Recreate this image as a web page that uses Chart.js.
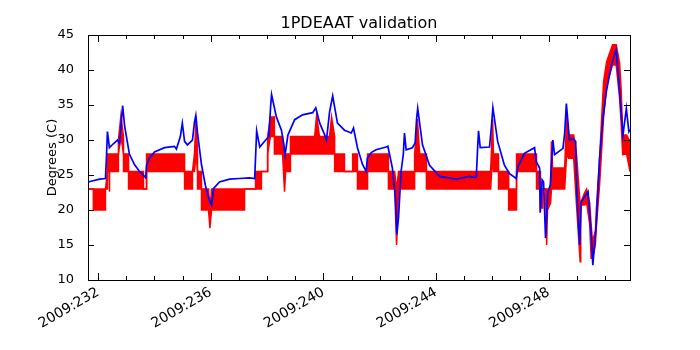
<!DOCTYPE html>
<html>
<head>
<meta charset="utf-8">
<title>1PDEAAT validation</title>
<script src="https://cdn.jsdelivr.net/npm/chart.js@4.4.0/dist/chart.umd.min.js"></script>
<style>
  body { margin: 0; background: #fff; }
  #wrap { width: 700px; height: 350px; }
</style>
</head>
<body>
<div id="wrap"><canvas id="chart" width="700" height="350"></canvas></div>
<script>
// telemetry (red): the signal flickers between two levels, so keep low/high envelope
const redTime = [
    231.64, 231.83, 231.83, 232.26, 232.26, 232.33, 232.33, 232.39, 232.40, 232.41,
    232.72, 232.72, 232.81, 232.90, 232.90, 233.08, 233.08, 233.61, 233.61, 233.72,
    233.72, 235.07, 235.07, 235.35, 235.35, 235.42, 235.48, 235.53, 235.53, 235.67,
    235.67, 235.92, 235.97, 236.03, 237.20, 237.20, 237.59, 237.59, 237.80, 237.80,
    238.02, 238.02, 238.12, 238.26, 238.26, 238.55, 238.62, 238.66, 238.83, 238.83,
    239.69, 239.76, 239.86, 240.22, 240.29, 240.40, 240.40, 240.75, 240.75, 241.04,
    241.04, 241.21, 241.21, 241.57, 241.57, 242.31, 242.31, 242.53, 242.60, 242.67,
    243.24, 243.24, 243.34, 243.42, 243.66, 243.66, 245.94, 246.01, 246.04, 246.22,
    246.22, 246.58, 246.58, 246.86, 246.86, 247.57, 247.57, 247.71, 247.71, 247.79,
    247.79, 247.89, 247.93, 247.96, 248.07, 248.10, 248.14, 248.57, 248.64, 248.71,
    248.89, 248.99, 249.12, 249.14, 249.28, 249.35, 249.46, 249.51, 249.56, 249.66,
    249.70, 249.81, 249.95, 250.06, 250.27, 250.40, 250.52, 250.58, 250.63, 250.77,
    250.89
];
const redLow = [
    23, 23, 20, 20, 23, 23, 25.5, 25.5, 22.6, 25.5,
    25.5, 28, 30.5, 28, 25.5, 25.5, 23, 23, 23, 23,
    25.5, 25.5, 23, 23, 25.5, 25.5, 28, 25.5, 23, 23,
    20, 20, 17.4, 20, 20, 23, 23, 23, 23, 25.5,
    25.5, 28, 30.5, 30.5, 28, 28, 22.6, 25.5, 25.5, 28,
    28, 28, 28, 28, 28, 28, 25.5, 25.5, 25.5, 25.5,
    25.5, 25.5, 23, 23, 25.5, 25.5, 23, 23, 15, 23,
    23, 25.5, 25.5, 25.5, 25.5, 23, 23, 28, 25.5, 25.5,
    23, 23, 20, 20, 25.5, 25.5, 23, 23, 20.3, 20.3,
    23, 23, 15, 20, 21, 23, 23, 23, 28, 27.4,
    27.4, 20.7, 12.6, 20.7, 20.7, 21, 17.9, 13.1, 13.1, 15,
    17.9, 23.6, 33.1, 37.9, 40.7, 40.7, 36, 32.1, 27.9, 28,
    25.5
];
const redHigh = [
    23, 23, 23, 23, 23, 25.5, 28, 28, 28, 28,
    28, 30, 33.5, 30.5, 28, 28, 25.5, 25.5, 23, 23,
    28, 28, 25.5, 25.5, 25.5, 28, 33.3, 28, 25.5, 25.5,
    23, 23, 20, 23, 23, 23, 23, 25.5, 25.5, 25.5,
    25.5, 30.5, 33.3, 33.3, 30.5, 30.5, 28, 28, 28, 30.5,
    30.5, 33.6, 30.5, 30.5, 33.3, 30.5, 28, 28, 25.5, 25.5,
    28, 28, 25.5, 25.5, 28, 28, 25.5, 25.5, 23, 25.5,
    25.5, 28, 33, 28, 28, 25.5, 25.5, 33, 28, 28,
    25.5, 25.5, 23, 23, 28, 28, 25.5, 25.5, 23, 23,
    23, 23, 23, 23, 23, 29.8, 26, 26, 33.6, 30.7,
    30.7, 28, 20.7, 21, 22.5, 23, 21, 17.9, 15.5, 17,
    20.5, 27.4, 38.3, 41.2, 43.6, 43.6, 41, 36.9, 30.7, 30.7,
    29.8
];

// model prediction (blue)
const modelTime = [
    231.64, 232.05, 232.26, 232.30, 232.33, 232.40, 232.55, 232.69, 232.76, 232.83,
    232.87, 232.94, 233.11, 233.29, 233.47, 233.65, 233.69, 233.72, 233.82, 234.00,
    234.36, 234.71, 234.78, 234.82, 234.92, 234.99, 235.07, 235.17, 235.35, 235.42,
    235.47, 235.53, 235.67, 235.81, 235.96, 236.03, 236.10, 236.31, 236.67, 237.02,
    237.38, 237.56, 237.63, 237.74, 237.95, 238.06, 238.13, 238.16, 238.33, 238.51,
    238.59, 238.64, 238.74, 238.98, 239.26, 239.62, 239.73, 239.87, 240.04, 240.11,
    240.22, 240.33, 240.50, 240.75, 240.99, 241.07, 241.21, 241.39, 241.52, 241.56,
    241.70, 241.87, 242.23, 242.29, 242.45, 242.56, 242.61, 242.67, 242.76, 242.84,
    242.88, 242.94, 243.16, 243.26, 243.31, 243.35, 243.52, 243.77, 244.13, 244.72,
    245.19, 245.43, 245.48, 245.51, 245.57, 245.90, 245.97, 246.02, 246.19, 246.43,
    246.61, 246.85, 246.91, 247.14, 247.50, 247.56, 247.68, 247.70, 247.77, 247.82,
    247.89, 247.97, 248.06, 248.15, 248.21, 248.51, 248.57, 248.63, 248.74, 248.86,
    248.96, 249.00, 249.10, 249.16, 249.40, 249.52, 249.57, 249.69, 249.81, 249.93,
    250.05, 250.23, 250.40, 250.52, 250.64, 250.76, 250.85, 250.89
];
const modelTemp = [
    24.0, 24.4, 24.5, 28, 31.2, 28.9, 29.5, 30.0, 29.5, 33,
    34.9, 32, 28.0, 26.5, 25.5, 24.8, 24.6, 26.4, 27.4, 28.3,
    28.9, 29.1, 28.7, 29.2, 30.5, 32.4, 29.8, 29.3, 30, 32.5,
    33.5, 31, 26.5, 23.5, 21.3, 20.7, 23.1, 24.0, 24.4, 24.5,
    24.6, 24.5, 31.3, 29.0, 30.0, 30.5, 35, 36.5, 33.3, 31.4,
    29.5, 27.9, 30.7, 32.9, 33.6, 33.9, 34.6, 32.4, 30.8, 30,
    34, 36.3, 32.4, 31.4, 31.0, 31.7, 28.9, 26.5, 25.5, 27.4,
    28.2, 28.6, 29.0, 29.1, 26, 21.7, 16.5, 19, 25.5, 28,
    31, 28.6, 28.9, 29.6, 33, 34.5, 29.3, 26.4, 24.8, 24.4,
    24.8, 24.6, 29, 31.3, 28.9, 29.0, 32, 34.6, 29.8, 26.4,
    25.2, 24.5, 26.2, 28.1, 28.9, 26.9, 26, 19.6, 24.3, 24,
    16, 22.4, 23.6, 30, 27.9, 28.8, 31, 35.2, 30, 30.2,
    29.8, 22.6, 15, 21.2, 22.6, 16, 12.1, 17.9, 27.4, 33.1,
    36.9, 40.7, 42.9, 36.9, 30.7, 34.5, 31.2, 31.5
];

const xTickDays = [232, 236, 240, 244, 248];
const xTickLabels = ['2009:232', '2009:236', '2009:240', '2009:244', '2009:248'];
const yTicks = [10, 15, 20, 25, 30, 35, 40, 45];

const font = 'DejaVu Sans';
Chart.defaults.color = '#000';

function toPoints(ts, vs) {
    return ts.map((t, i) => ({x: t, y: vs[i]}));
}

// matplotlib style box with ticks pointing inwards
const frameTicks = {
    id: 'frameTicks',
    afterDatasetsDraw(chart) {
        const ctx = chart.ctx;
        const a = chart.chartArea;
        const xs = chart.scales.x;
        const ys = chart.scales.y;
        ctx.save();
        ctx.strokeStyle = '#000';
        ctx.lineWidth = 1;
        ctx.beginPath();
        for (let d = Math.ceil(xs.min); d <= xs.max; d++) {
            const px = Math.round(xs.getPixelForValue(d)) + 0.5;
            const len = xTickDays.includes(d) ? 7 : 4;
            ctx.moveTo(px, a.bottom);
            ctx.lineTo(px, a.bottom - len);
            ctx.moveTo(px, a.top);
            ctx.lineTo(px, a.top + len);
        }
        yTicks.forEach(v => {
            const py = Math.round(ys.getPixelForValue(v)) + 0.5;
            ctx.moveTo(a.left, py);
            ctx.lineTo(a.left + 6, py);
            ctx.moveTo(a.right, py);
            ctx.lineTo(a.right - 6, py);
        });
        ctx.stroke();
        ctx.strokeRect(Math.round(a.left) + 0.5, Math.round(a.top) + 0.5,
            Math.round(a.right - a.left), Math.round(a.bottom - a.top));
        ctx.restore();
    }
};

new Chart(document.getElementById('chart'), {
    type: 'line',
    data: {
        datasets: [
            {
                label: 'model',
                data: toPoints(modelTime, modelTemp),
                borderColor: '#0000ff',
                borderWidth: 1.7,
                pointRadius: 0,
                tension: 0,
                fill: false,
                order: 0
            },
            {
                label: 'telemetry low',
                data: toPoints(redTime, redLow),
                borderColor: '#ff0000',
                borderWidth: 1.5,
                pointRadius: 0,
                tension: 0,
                fill: false,
                order: 1
            },
            {
                label: 'telemetry high',
                data: toPoints(redTime, redHigh),
                borderColor: '#ff0000',
                backgroundColor: '#ff0000',
                borderWidth: 1.5,
                pointRadius: 0,
                tension: 0,
                fill: '-1',
                order: 2
            }
        ]
    },
    options: {
        responsive: false,
        animation: false,
        events: [],
        layout: { padding: { left: 18, right: 0, top: 0, bottom: 0 } },
        plugins: {
            legend: { display: false },
            tooltip: { enabled: false },
            title: {
                display: true,
                text: '1PDEAAT validation',
                color: '#000',
                font: { family: font, size: 16, weight: 'normal', lineHeight: 1.2 },
                padding: { top: 14, bottom: 1.8 }
            }
        },
        scales: {
            x: {
                type: 'linear',
                min: 231.64,
                max: 250.89,
                grid: { display: false },
                border: { display: false },
                afterBuildTicks: s => { s.ticks = xTickDays.map(v => ({ value: v })); },
                afterFit: s => { s.height = 70; },
                ticks: {
                    autoSkip: false,
                    minRotation: 30,
                    maxRotation: 30,
                    padding: -4,
                    color: '#000',
                    font: { family: font, size: 14 },
                    callback: (v) => xTickLabels[xTickDays.indexOf(v)]
                }
            },
            y: {
                min: 10,
                max: 45,
                grid: { display: false },
                border: { display: false },
                afterBuildTicks: s => { s.ticks = yTicks.map(v => ({ value: v })); },
                afterFit: s => { s.width = 70; },
                ticks: {
                    padding: 6,
                    color: '#000',
                    font: { family: font, size: 13 }
                },
                title: {
                    display: true,
                    text: 'Degrees (C)',
                    color: '#000',
                    font: { family: font, size: 13 },
                    padding: { top: 27, bottom: 0 }
                }
            },
            // empty strip on the right so the plot ends where the reference does
            yRight: {
                position: 'right',
                display: true,
                grid: { display: false },
                border: { display: false },
                ticks: { display: false },
                afterFit: s => { s.width = 70; }
            }
        }
    },
    plugins: [frameTicks]
});
</script>
</body>
</html>
